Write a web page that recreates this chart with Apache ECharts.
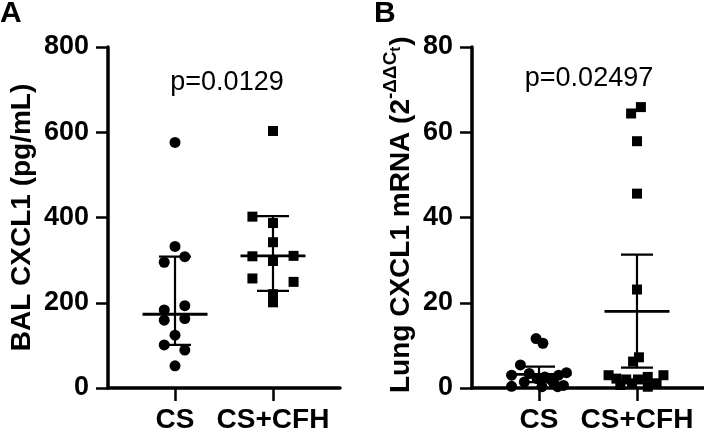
<!DOCTYPE html>
<html>
<head>
<meta charset="utf-8">
<script src="https://cdn.jsdelivr.net/npm/echarts@6/dist/echarts.min.js"></script>
<style>
  html, body { margin: 0; padding: 0; background: #fff; }
  #chart { width: 704px; height: 434px; }
</style>
</head>
<body>
<div id="chart"></div>
<script>
// groups on the x axis (1 = CS, 2 = CS+CFH)
var groups = ['CS', 'CS+CFH']

// panel A: BAL CXCL1 (pg/mL)
var balCsX = [1.0, 1.0, 1.10, 0.89, 1.10, 0.89, 1.10, 0.89, 1.0, 0.89, 1.10, 1.0]
var balCsY = [576, 332, 308, 295, 193, 183, 163, 159, 124, 101, 89, 52]
var balCfhX = [2.0, 1.79, 2.0, 2.0, 1.79, 2.21, 2.0, 1.79, 2.21, 2.0, 2.0]
var balCfhY = [603, 402, 387, 342, 309, 310, 298, 257, 249, 220, 201]
// [group, centre, low, high]
var balStats = [[1, 173, 101, 308], [2, 310, 228, 403]]
var balTicks = [0, 200, 400, 600, 800]

// panel B: Lung CXCL1 mRNA (2^-ddCt)
var lungCsX = [0.97, 1.04, 0.81, 1.28, 0.90, 0.72, 1.20, 1.06, 0.98, 1.12, 0.85, 1.15, 1.25, 0.72, 1.03, 1.19]
var lungCsY = [11.6, 10.5, 5.4, 3.6, 3.4, 3.0, 3.0, 2.6, 2.2, 2.0, 1.4, 1.1, 0.6, 0.4, 0.3, 0.3]
var lungCfhX = [1.94, 2.04, 2.0, 2.0, 2.0, 1.96, 2.02, 1.71, 1.79, 1.89, 2.01, 2.11, 2.27, 1.83, 1.95, 2.11, 2.20]
var lungCfhY = [64.4, 65.9, 57.9, 45.6, 23.1, 6.2, 7.2, 3.0, 2.2, 2.0, 2.0, 2.6, 3.0, 0.7, 1.1, 0.3, 1.1]
var lungStats = [[1, 3.2, 1.4, 5.0], [2, 18.0, 4.8, 31.3]]
var lungTicks = [0, 20, 40, 60, 80]

var FONT = 'Liberation Sans, Arial, sans-serif'

function zip (xs, ys) {
  return xs.map(function (x, i) { return [x, ys[i]] })
}

function textWidth (str, size) {
  var ctx = document.createElement('canvas').getContext('2d')
  ctx.font = 'bold ' + size + 'px ' + FONT
  return ctx.measureText(str).width
}

function xAxisFor (idx) {
  return {
    type: 'value',
    gridIndex: idx,
    min: 0.316,
    max: 2.684,
    axisLine: { show: true, lineStyle: { color: '#000', width: 3.5 } },
    axisTick: { show: true, customValues: [1, 2], length: 13, lineStyle: { color: '#000', width: 2.5 } },
    axisLabel: {
      customValues: [1, 2],
      margin: 18,
      color: '#000',
      fontFamily: FONT,
      fontWeight: 'bold',
      fontSize: 28,
      formatter: function (v) { return groups[Math.round(v) - 1] }
    },
    splitLine: { show: false }
  }
}

function yAxisFor (idx, ticks, name) {
  return {
    type: 'value',
    gridIndex: idx,
    min: ticks[0],
    max: ticks[ticks.length - 1],
    interval: ticks[1] - ticks[0],
    name: name,
    nameLocation: 'middle',
    nameGap: 72,
    nameRotate: 90,
    nameTextStyle: {
      color: '#000',
      fontFamily: FONT,
      fontWeight: 'bold',
      fontSize: 28
    },
    axisLine: { show: true, lineStyle: { color: '#000', width: 3.5 } },
    axisTick: { show: true, length: 12, lineStyle: { color: '#000', width: 2.5 } },
    axisLabel: {
      margin: 19,
      color: '#000',
      fontFamily: FONT,
      fontWeight: 'bold',
      fontSize: 27
    },
    splitLine: { show: false }
  }
}

function scatter (idx, data, symbol, size) {
  return {
    type: 'scatter',
    xAxisIndex: idx,
    yAxisIndex: idx,
    symbol: symbol,
    symbolSize: size,
    itemStyle: { color: '#000', opacity: 1 },
    data: data,
    z: 2
  }
}

// median/mean line with whiskers and caps
function errorBars (idx, stats) {
  return {
    type: 'custom',
    xAxisIndex: idx,
    yAxisIndex: idx,
    z: 5,
    data: stats,
    renderItem: function (params, api) {
      var mid = api.coord([api.value(0), api.value(1)])
      var lo = api.coord([api.value(0), api.value(2)])
      var hi = api.coord([api.value(0), api.value(3)])
      var st = { stroke: '#000', lineWidth: 2.2 }
      return {
        type: 'group',
        children: [
          { type: 'line', shape: { x1: hi[0], y1: hi[1], x2: lo[0], y2: lo[1] }, style: st },
          { type: 'line', shape: { x1: hi[0] - 16, y1: hi[1], x2: hi[0] + 16, y2: hi[1] }, style: st },
          { type: 'line', shape: { x1: lo[0] - 16, y1: lo[1], x2: lo[0] + 16, y2: lo[1] }, style: st },
          { type: 'line', shape: { x1: mid[0] - 32.5, y1: mid[1], x2: mid[0] + 32.5, y2: mid[1] }, style: { stroke: '#000', lineWidth: 2.8 } }
        ]
      }
    }
  }
}

// panel B axis title with superscript, drawn as a rotated group
var lungMain = 'Lung CXCL1 mRNA (2'
var lungSup = '-ΔΔC'
var lungSub = 't'
var w1 = textWidth(lungMain, 28)
var w2 = textWidth(lungSup, 19)
var w3 = textWidth(lungSub, 15)
var titleStyle = { fontFamily: FONT, fontWeight: 'bold', fill: '#000', align: 'left', verticalAlign: 'middle' }
function ts (text, size) {
  return Object.assign({}, titleStyle, { text: text, fontSize: size })
}

var chart = echarts.init(document.getElementById('chart'))
chart.setOption({
  backgroundColor: '#fff',
  animation: false,
  grid: [
    { left: 108, top: 47, width: 232, height: 342 },
    { left: 472, top: 47, width: 232, height: 341 }
  ],
  xAxis: [xAxisFor(0), xAxisFor(1)],
  yAxis: [
    yAxisFor(0, balTicks, 'BAL CXCL1 (pg/mL)'),
    yAxisFor(1, lungTicks, '')
  ],
  graphic: [
    { type: 'text', left: 0, top: -1, style: { text: 'A', fontFamily: FONT, fontWeight: 'bold', fontSize: 30, fill: '#000' } },
    { type: 'text', left: 374, top: -1, style: { text: 'B', fontFamily: FONT, fontWeight: 'bold', fontSize: 30, fill: '#000' } },
    { type: 'text', x: 227, y: 83, style: { text: 'p=0.0129', fontFamily: FONT, fontSize: 27, fill: '#000', align: 'center', verticalAlign: 'middle' } },
    { type: 'text', x: 589, y: 79, style: { text: 'p=0.02497', fontFamily: FONT, fontSize: 27, fill: '#000', align: 'center', verticalAlign: 'middle' } },
    {
      type: 'group',
      x: 410,
      y: 393,
      rotation: Math.PI / 2,
      children: [
        { type: 'text', x: 0, y: -9, style: ts(lungMain, 28) },
        { type: 'text', x: w1, y: -19, style: ts(lungSup, 19) },
        { type: 'text', x: w1 + w2, y: -14, style: ts(lungSub, 15) },
        { type: 'text', x: w1 + w2 + w3 + 1, y: -9, style: ts(')', 28) }
      ]
    }
  ],
  series: [
    scatter(0, zip(balCsX, balCsY), 'circle', 11),
    scatter(0, zip(balCfhX, balCfhY), 'rect', 10),
    errorBars(0, balStats),
    scatter(1, zip(lungCsX, lungCsY), 'circle', 11),
    scatter(1, zip(lungCfhX, lungCfhY), 'rect', 10),
    errorBars(1, lungStats)
  ]
})
</script>
</body>
</html>
